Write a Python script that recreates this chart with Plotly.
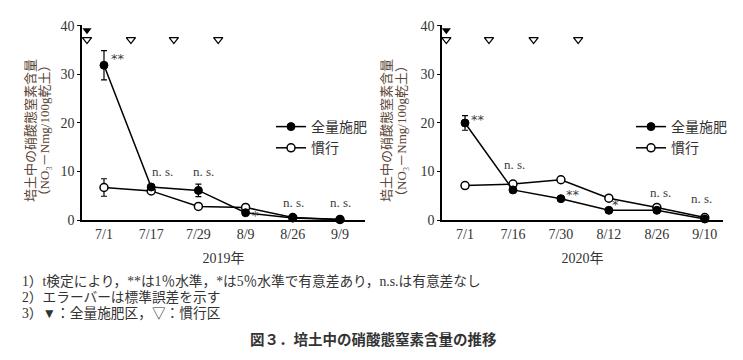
import plotly.graph_objects as go

# ---- data ----
dates_2019 = ["7/1", "7/17", "7/29", "8/9", "8/26", "9/9"]
full_2019 = [31.9, 6.8, 6.1, 1.5, 0.4, 0.1]
full_err_2019 = [3.0, 0.0, 1.3, 0.0, 0.0, 0.0]
conv_2019 = [6.7, 6.0, 2.8, 2.6, 0.5, 0.1]
conv_err_2019 = [1.8, 0.0, 0.0, 0.0, 0.0, 0.0]
sig_2019 = ["**", "n. s.", "n. s.", "*", "n. s.", "n. s."]
sig_y_2019 = [33.2, 9.9, 9.9, 0.9, 3.7, 3.7]
sig_dx_2019 = [0.3, 0.25, 0.1, 0.2, 0.02, 0.02]
full_app_2019 = [-0.36]
conv_app_2019 = [-0.36, 0.57, 1.48, 2.42]

dates_2020 = ["7/1", "7/16", "7/30", "8/12", "8/26", "9/10"]
full_2020 = [20.0, 6.2, 4.4, 2.0, 2.0, 0.2]
full_err_2020 = [1.5, 0.0, 0.0, 0.0, 0.0, 0.0]
conv_2020 = [7.1, 7.4, 8.3, 4.5, 2.6, 0.5]
conv_err_2020 = [0.0, 0.0, 0.0, 0.0, 0.0, 0.0]
sig_2020 = ["**", "n. s.", "**", "*", "n. s.", "n. s."]
sig_y_2020 = [20.7, 11.5, 5.3, 3.1, 5.7, 4.5]
sig_dx_2020 = [0.27, 0.04, 0.25, 0.13, 0.07, -0.07]
full_app_2020 = [-0.39]
conv_app_2020 = [-0.39, 0.5, 1.43, 2.36]

full_marker_y = 39.1
conv_marker_y = 37.2

series_names = ["全量施肥", "慣行"]
yaxis_title_lines = ["培土中の硝酸態窒素含量", "（NO₃－Nmg/100g乾土）"]
footnotes = [
    "1）t検定により，**は1％水準，*は5％水準で有意差あり，n.s.は有意差なし",
    "2）エラーバーは標準誤差を示す",
    "3）▼：全量施肥区，▽：慣行区",
]
fig_title = "図３．培土中の硝酸態窒素含量の推移"

SERIF = "Liberation Serif, Noto Sans CJK JP"
SANS = "Noto Sans CJK JP"
W, H = 743, 360

fig = go.Figure()

panels = [
    dict(dates=dates_2019, full=full_2019, ferr=full_err_2019, conv=conv_2019, cerr=conv_err_2019,
         sig=sig_2019, sigy=sig_y_2019, sigdx=sig_dx_2019, fapp=full_app_2019, capp=conv_app_2019,
         xa="x", ya="y", legend="legend", year="2019年",
         dom=[82 / W, 365 / W], rng=[-0.466, 5.53], title_x=[30, 43.5]),
    dict(dates=dates_2020, full=full_2020, ferr=full_err_2020, conv=conv_2020, cerr=conv_err_2020,
         sig=sig_2020, sigy=sig_y_2020, sigdx=sig_dx_2020, fapp=full_app_2020, capp=conv_app_2020,
         xa="x2", ya="y2", legend="legend2", year="2020年",
         dom=[442 / W, 723 / W], rng=[-0.48, 5.38], title_x=[386, 401]),
]

ydom = [140 / H, 335 / H]

for p in panels:
    xs = list(range(len(p["dates"])))
    fig.add_trace(go.Scatter(
        x=xs, y=p["conv"], name=series_names[1], mode="lines+markers",
        line=dict(color="black", width=1.5),
        marker=dict(symbol="circle", size=8, color="white", line=dict(color="black", width=1.5)),
        error_y=dict(type="data", array=p["cerr"], color="black", thickness=1.2, width=3),
        xaxis=p["xa"], yaxis=p["ya"], legend=p["legend"], cliponaxis=False,
    ))
    fig.add_trace(go.Scatter(
        x=xs, y=p["full"], name=series_names[0], mode="lines+markers",
        line=dict(color="black", width=1.5),
        marker=dict(symbol="circle", size=8, color="black", line=dict(color="black", width=1)),
        error_y=dict(type="data", array=p["ferr"], color="black", thickness=1.2, width=3),
        xaxis=p["xa"], yaxis=p["ya"], legend=p["legend"], cliponaxis=False,
    ))
    # application markers
    fig.add_trace(go.Scatter(
        x=p["fapp"], y=[full_marker_y] * len(p["fapp"]), mode="markers",
        marker=dict(symbol="triangle-down", size=8, color="black"),
        xaxis=p["xa"], yaxis=p["ya"], showlegend=False, cliponaxis=False, hoverinfo="skip",
    ))
    fig.add_trace(go.Scatter(
        x=p["capp"], y=[conv_marker_y] * len(p["capp"]), mode="markers",
        marker=dict(symbol="triangle-down-open", size=8, color="black", line=dict(width=1.3)),
        xaxis=p["xa"], yaxis=p["ya"], showlegend=False, cliponaxis=False, hoverinfo="skip",
    ))
    for i, (t, yv, dx) in enumerate(zip(p["sig"], p["sigy"], p["sigdx"])):
        is_star = "*" in t
        fig.add_annotation(x=i + dx, y=yv, xref=p["xa"], yref=p["ya"], text=t, showarrow=False,
                           xanchor="center", yanchor="middle",
                           font=dict(family="DejaVu Sans" if is_star else SERIF,
                                     size=13, color="#3c3c3c"))
    # y-axis title (two rotated lines)
    for line_text, xc in zip(yaxis_title_lines, p["title_x"]):
        fig.add_annotation(x=xc / W, y=1 - 131 / H, xref="paper", yref="paper", text=line_text,
                           showarrow=False, textangle=-90, xanchor="center", yanchor="middle",
                           font=dict(family=SERIF, size=13, color="#5a4535"))

common_x = dict(showgrid=False, zeroline=False, showline=True, linecolor="black", linewidth=1.5,
                ticks="", tickfont=dict(family=SERIF, size=14, color="#333"), automargin=False,
                title=dict(font=dict(family=SERIF, size=14, color="#333"), standoff=13))
common_y = dict(showgrid=False, zeroline=False, showline=True, linecolor="black", linewidth=1.5,
                ticks="outside", ticklen=3, tickwidth=1, tickcolor="black", range=[0, 40.2],
                tickvals=[0, 10, 20, 30, 40], tickfont=dict(family=SERIF, size=14, color="#333"),
                domain=ydom, automargin=False)

fig.update_layout(
    xaxis=dict(common_x, domain=panels[0]["dom"], range=panels[0]["rng"], anchor="y",
               tickvals=list(range(6)), ticktext=panels[0]["dates"], title_text=panels[0]["year"]),
    yaxis=dict(common_y, anchor="x"),
    xaxis2=dict(common_x, domain=panels[1]["dom"], range=panels[1]["rng"], anchor="y2",
                tickvals=list(range(6)), ticktext=panels[1]["dates"], title_text=panels[1]["year"]),
    yaxis2=dict(common_y, anchor="x2"),
    width=W, height=H, margin=dict(l=0, r=0, t=0, b=0, autoexpand=False),
    paper_bgcolor="white", plot_bgcolor="white",
    legend=dict(x=271 / W, y=1 - 111 / H, xanchor="left", yanchor="top", bgcolor="rgba(0,0,0,0)",
                font=dict(family=SANS, size=14, color="#333"), traceorder="reversed",
                itemwidth=30, tracegroupgap=0),
    legend2=dict(x=631 / W, y=1 - 111 / H, xanchor="left", yanchor="top", bgcolor="rgba(0,0,0,0)",
                 font=dict(family=SANS, size=14, color="#333"), traceorder="reversed",
                 itemwidth=30, tracegroupgap=0),
    showlegend=True,
)

for i, t in enumerate(footnotes):
    fig.add_annotation(x=20 / W, y=1 - (281 + 16 * i) / H, xref="paper", yref="paper", text=t,
                       showarrow=False, xanchor="left", yanchor="middle",
                       font=dict(family=SERIF, size=13.7, color="#333"))

fig.add_annotation(x=373 / W, y=1 - 338 / H, xref="paper", yref="paper", text="<b>" + fig_title + "</b>",
                   showarrow=False, xanchor="center", yanchor="middle",
                   font=dict(family=SANS, size=14.5, color="#333"))

fig.write_html("out.html", post_script="document.body.style.margin='0px';",
               config={"displayModeBar": False})
